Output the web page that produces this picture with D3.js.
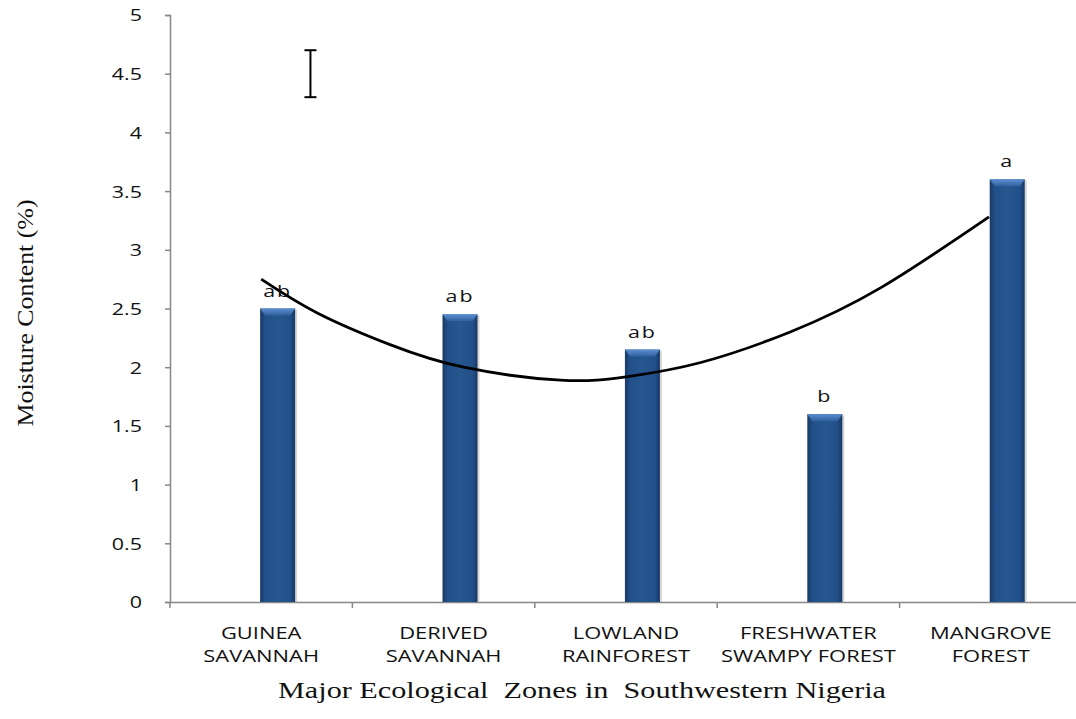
<!DOCTYPE html>
<html><head><meta charset="utf-8">
<script src="https://cdn.jsdelivr.net/npm/d3@7"></script>
<style>body{margin:0;background:#fff;}svg{display:block;}</style>
</head><body>
<script>
const categories = [["GUINEA","SAVANNAH"],["DERIVED","SAVANNAH"],["LOWLAND","RAINFOREST"],["FRESHWATER","SWAMPY FOREST"],["MANGROVE","FOREST"]];
const values = [2.5, 2.45, 2.15, 1.6, 3.6];
const letters = ["ab","ab","ab","b","a"];
const yTicks = [0,0.5,1,1.5,2,2.5,3,3.5,4,4.5,5];
const trendX = [1.0, 1.31, 1.71, 2.11, 2.64, 3.01, 3.41, 3.90, 4.40, 4.99];
const trendY = [2.75, 2.46, 2.19, 2.00, 1.89, 1.92, 2.04, 2.30, 2.68, 3.28];
const errX = [1.27];
const errLow = [4.3];
const errHigh = [4.7];

const W=1076,H=719;
const svg=d3.select("body").append("svg").attr("width",W).attr("height",H);
const defs=svg.append("defs");
const g1=defs.append("linearGradient").attr("id","barG").attr("x1","0").attr("x2","1").attr("y1","0").attr("y2","0");
[[0,"#193a66"],[0.15,"#22508a"],[0.5,"#27578f"],[0.85,"#22508a"],[1,"#193a66"]].forEach(s=>g1.append("stop").attr("offset",s[0]).attr("stop-color",s[1]));
const g2=defs.append("linearGradient").attr("id","topG").attr("x1","0").attr("x2","0").attr("y1","0").attr("y2","1");
[[0,"#5d8fd0"],[1,"#2f5f9c"]].forEach(s=>g2.append("stop").attr("offset",s[0]).attr("stop-color",s[1]));

const x=d3.scaleBand().domain(d3.range(categories.length)).range([170,1082]).paddingInner(0).paddingOuter(0);
const y=d3.scaleLinear().domain([0,5]).range([602,15]);
const xi=d3.scaleLinear().domain([1,5]).range([x(0)+x.bandwidth()/2,x(4)+x.bandwidth()/2]);
const bw=35, off=x.bandwidth()*0.09;
const sans="'Open Sans',sans-serif";
const SX=1.3, SXC=1.37;

// axes
const yAxis=d3.axisLeft(y).tickValues(yTicks).tickSize(5).tickFormat(d=>String(d));
const ya=svg.append("g").attr("transform","translate(170,0)").call(yAxis);
ya.select(".domain").attr("stroke","#888").attr("stroke-width",1.5);
ya.selectAll(".tick line").attr("stroke","#888").attr("stroke-width",1.5);
ya.selectAll(".tick text").attr("x",0).attr("dy","0.36em")
  .attr("transform",`translate(-28,0) scale(${SX},1)`)
  .attr("font-family",sans).attr("font-size",16.5).attr("fill","#111");

const xAxis=d3.axisBottom(x).tickSize(0).tickFormat("");
const xa=svg.append("g").attr("transform","translate(0,602)").call(xAxis);
xa.select(".domain").attr("stroke","#888").attr("stroke-width",1.5);
const bounds=d3.range(categories.length).map(i=>x(i));
xa.selectAll(".bt").data(bounds).enter().append("line").attr("class","bt")
  .attr("x1",d=>d).attr("x2",d=>d).attr("y1",0).attr("y2",6).attr("stroke","#888").attr("stroke-width",1.5);

// category labels
categories.forEach((c,i)=>{
  const t=svg.append("text").attr("text-anchor","middle").attr("font-family",sans).attr("font-size",16).attr("fill","#111")
    .attr("transform",`translate(${x(i)+x.bandwidth()/2},0) scale(${SXC},1)`);
  c.forEach((line,j)=>t.append("tspan").attr("x",0).attr("y",639+j*23.5).text(line));
});

// bars
const bars=svg.append("g");
values.forEach((v,i)=>{
  const bx=x(i)+x.bandwidth()/2+off-bw/2;
  bars.append("rect").attr("x",bx+2).attr("y",y(v)+1).attr("width",bw).attr("height",y(0)-y(v)-1).attr("fill","#bbb").attr("opacity",0.6);
  bars.append("rect").attr("x",bx).attr("y",y(v)).attr("width",bw).attr("height",y(0)-y(v)).attr("fill","url(#barG)");
  bars.append("path").attr("d",`M${bx},${y(v)} L${bx+bw},${y(v)} L${bx+bw-5},${y(v)+7} L${bx+5},${y(v)+7} Z`).attr("fill","url(#topG)");
  svg.append("text").attr("transform",`translate(${bx+bw/2},${y(v)-12}) scale(${SX},1)`).attr("text-anchor","middle")
    .attr("font-family",sans).attr("font-size",16.5).attr("letter-spacing",1.5).attr("fill","#111").text(letters[i]);
});

// trend line
const line=d3.line().x(d=>xi(d[0])).y(d=>y(d[1])).curve(d3.curveNatural);
svg.append("path").datum(trendX.map((d,i)=>[d,trendY[i]])).attr("d",line).attr("fill","none").attr("stroke","#000").attr("stroke-width",2.8);

// error bar
errX.forEach((ex,i)=>{
  const px=xi(ex);
  svg.append("line").attr("x1",px).attr("x2",px).attr("y1",y(errLow[i])).attr("y2",y(errHigh[i])).attr("stroke","#000").attr("stroke-width",2);
  [errLow[i],errHigh[i]].forEach(v=>svg.append("line").attr("x1",px-6).attr("x2",px+6).attr("y1",y(v)).attr("y2",y(v)).attr("stroke","#000").attr("stroke-width",2));
});

// axis titles
svg.append("text").attr("transform","translate(33,313) rotate(-90)").attr("text-anchor","middle")
  .attr("font-family","'Liberation Serif','Times New Roman',serif").attr("font-size",23).attr("fill","#111")
  .attr("textLength",227).attr("lengthAdjust","spacingAndGlyphs").text("Moisture Content (%)");
svg.append("text").attr("x",582).attr("y",698).attr("text-anchor","middle")
  .attr("font-family","'Liberation Serif','Times New Roman',serif").attr("font-size",23).attr("fill","#111")
  .attr("textLength",608).attr("lengthAdjust","spacingAndGlyphs").attr("xml:space","preserve").text("Major Ecological  Zones in  Southwestern Nigeria");
</script>
</body></html>
